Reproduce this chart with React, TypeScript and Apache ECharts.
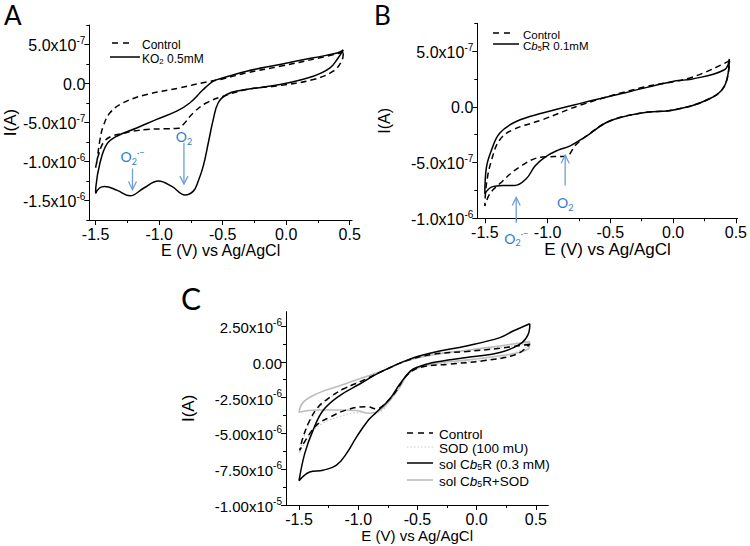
import React, { useEffect, useRef } from 'react';
import * as echarts from 'echarts';

// ---------- Panel A (current in units of 1e-7 A) ----------
const aControlE = [0.45, 0.267, -0.049, -0.311, -0.521, -0.626, -0.836, -1.098, -1.283, -1.387, -1.44, -1.466, -1.492, -1.5, -1.48, -1.44, -1.38, -1.283, -1.2, -1.098, -0.95, -0.85, -0.81, -0.731, -0.626, -0.495, -0.311, -0.049, 0.213, 0.37, 0.44, 0.45];
const aControlI = [4.0, 3.3, 2.2, 1.37, 0.51, 0.2, -0.55, -1.41, -2.47, -3.76, -5.47, -7.2, -10.2, -10.8, -9.3, -7.6, -6.8, -6.4, -6.1, -5.9, -5.8, -5.75, -5.26, -3.76, -2.47, -1.63, -0.77, -0.26, 0.51, 1.58, 3.0, 4.0];
const aKO2E = [0.45, 0.4, 0.213, -0.049, -0.311, -0.521, -0.574, -0.653, -0.757, -0.862, -1.02, -1.177, -1.335, -1.413, -1.466, -1.498, -1.5, -1.47, -1.43, -1.33, -1.23, -1.12, -1.007, -0.9, -0.797, -0.731, -0.692, -0.653, -0.613, -0.574, -0.535, -0.468, -0.364, -0.049, 0.213, 0.345, 0.41, 0.45];
const aKO2I = [4.3, 3.9, 3.3, 2.44, 1.58, 0.6, 0.3, -0.77, -2.47, -3.55, -4.6, -5.7, -6.76, -7.8, -10.2, -13.2, -14.1, -13.4, -13.2, -13.7, -14.4, -13.4, -12.5, -13.2, -14.3, -13.8, -12.5, -10.6, -7.6, -4.6, -2.47, -1.41, -0.9, -0.13, 0.94, 2.0, 3.3, 4.3];

// ---------- Panel B (current in units of 1e-7 A) ----------
const bControlE = [0.45, 0.145, -0.25, -0.724, -1.04, -1.277, -1.382, -1.447, -1.487, -1.5, -1.46, -1.382, -1.224, -1.04, -0.855, -0.776, -0.697, -0.513, -0.25, 0.014, 0.277, 0.409, 0.45];
const bControlI = [4.15, 2.64, 1.73, 0.21, -1.15, -2.06, -2.97, -4.8, -6.9, -8.9, -7.8, -6.9, -5.4, -4.5, -4.43, -3.43, -2.67, -1.31, -0.55, -0.25, 0.66, 1.87, 4.15];
const bCb5RE = [0.448, 0.409, 0.145, 0.014, -0.381, -0.724, -1.04, -1.25, -1.382, -1.447, -1.487, -1.5, -1.447, -1.356, -1.263, -1.17, -1.1, -1.02, -0.92, -0.82, -0.697, -0.513, -0.25, 0.014, 0.277, 0.409, 0.448];
const bCb5RI = [4.3, 3.33, 2.48, 2.33, 1.27, 0.36, -0.55, -1.31, -2.36, -3.88, -5.4, -7.8, -7.2, -7.06, -7.06, -6.45, -5.3, -4.5, -3.9, -3.5, -2.67, -1.31, -0.55, -0.25, 0.66, 1.87, 4.3];

// ---------- Panel C (current in units of 1e-6 A) ----------
const cControlE = [0.449, 0.196, -0.086, -0.368, -0.6, -0.818, -0.987, -1.128, -1.24, -1.34, -1.41, -1.466, -1.494, -1.41, -1.34, -1.24, -1.1, -0.93, -0.846, -0.762, -0.677, -0.593, -0.48, -0.227, 0.055, 0.337, 0.449];
const cControlI = [1.23, 0.95, 0.72, 0.53, 0.05, -0.74, -1.4, -1.9, -2.48, -3.17, -4.1, -5.26, -6.18, -5.02, -4.33, -3.87, -3.36, -3.13, -3.29, -2.83, -2.01, -0.97, -0.4, -0.16, 0.07, 0.53, 1.23];
const cSODE = [0.449, 0.2, -0.1, -0.4, -0.6, -0.82, -1.0, -1.15, -1.28, -1.38, -1.45, -1.5, -1.4, -1.3, -1.15, -1.0, -0.88, -0.8, -0.72, -0.64, -0.56, -0.4, -0.1, 0.2, 0.449];
const cSODI = [1.3, 1.0, 0.75, 0.5, 0.05, -0.74, -1.4, -2.05, -2.8, -3.8, -5.0, -6.4, -5.0, -4.3, -3.8, -3.55, -3.6, -3.4, -2.6, -1.6, -0.7, -0.25, 0.0, 0.3, 1.1];
const cCb5RE = [0.449, 0.308, 0.196, -0.086, -0.368, -0.565, -0.818, -0.987, -1.156, -1.297, -1.382, -1.452, -1.5, -1.41, -1.297, -1.184, -1.1, -1.015, -0.917, -0.846, -0.734, -0.649, -0.56, -0.508, -0.368, -0.086, 0.196, 0.365, 0.435, 0.449];
const cCb5RI = [2.66, 2.15, 1.69, 1.11, 0.65, 0.19, -0.74, -1.55, -2.36, -3.4, -4.79, -6.41, -8.3, -7.69, -7.57, -7.22, -6.41, -5.26, -4.1, -3.52, -2.59, -1.55, -0.65, -0.4, -0.05, 0.3, 0.65, 1.23, 1.92, 2.66];
const cCb5RSODE = [0.449, 0.196, -0.086, -0.368, -0.593, -0.79, -0.959, -1.156, -1.353, -1.466, -1.5, -1.353, -1.156, -1.015, -0.903, -0.818, -0.734, -0.649, -0.565, -0.368, -0.086, 0.196, 0.435, 0.449];
const cCb5RSODI = [1.41, 1.11, 0.81, 0.49, 0.07, -0.63, -1.09, -1.67, -2.24, -2.83, -3.52, -3.36, -3.36, -3.4, -3.59, -3.4, -2.71, -1.78, -0.74, -0.16, 0.12, 0.42, 0.88, 1.41];

// ---------- ticks ----------
const xMajor = [-1.5, -1.0, -0.5, 0.0, 0.5];
const xMinor = [-1.25, -0.75, -0.25, 0.25];
const yMajorA = [-15, -10, -5, 0, 5];
const yMinorA = [-17.5, -12.5, -7.5, -2.5, 2.5, 7.5];
const yMajorB = [-10, -5, 0, 5];
const yMinorB = [-7.5, -2.5, 2.5, 7.5];
const yMajorC = [-10, -7.5, -5, -2.5, 0, 2.5];
const yMinorC = [-8.75, -6.25, -3.75, -1.25, 1.25];

// annotation anchors (data space)
const annA = [
  { e: -0.805, label: 'O2', labelI: -6.8, from: -7.6, to: -12.9 },
  { e: -1.21, label: 'O2rad', labelI: -9.4, from: -10.9, to: -13.6 },
];
const annB = [
  { e: -0.86, label: 'O2', labelI: -8.6, from: -7.06, to: -4.34 },
  { e: -1.25, label: 'O2rad', labelI: -11.8, from: -10.4, to: -8.13 },
];

const AX = '"Liberation Sans", Arial, sans-serif';
const CAL = 'Lato, "Open Sans", sans-serif';
const BLUE = '#2f7ccc';
const ABLUE = '#6d9fd8';

function pairs(e: number[], i: number[]) {
  return e.map((v, k) => [v, i[k]]);
}

function sci(v: number, unitExp: number, dec: number) {
  if (Math.abs(v) < 1e-9) return '{m|' + (0).toFixed(dec) + '}';
  let m = v;
  let ex = unitExp;
  while (Math.abs(m) >= 10 - 1e-9) { m /= 10; ex += 1; }
  while (Math.abs(m) < 1 - 1e-9) { m *= 10; ex -= 1; }
  return '{m|' + m.toFixed(dec) + 'x10}{s|' + ex + '}';
}

const panels = [
  { grid: { left: 89.3, top: 25, width: 262.7, height: 195 }, xMin: -1.55, xMax: 0.518, yMin: -17.5, yMax: 7.5, yMajor: yMajorA, yMinor: yMinorA, unitExp: -7, dec: 1, yFont: 16, xName: 16, xGap: 22, yName: 17, yGap: 70 },
  { grid: { left: 477.3, top: 23.3, width: 262.7, height: 195 }, xMin: -1.56, xMax: 0.514, yMin: -10, yMax: 7.5, yMajor: yMajorB, yMinor: yMinorB, unitExp: -7, dec: 1, yFont: 16, xName: 17, xGap: 21, yName: 16, yGap: 85 },
  { grid: { left: 286, top: 311.7, width: 262.3, height: 193.3 }, xMin: -1.61, xMax: 0.605, yMin: -10, yMax: 3.5, yMajor: yMajorC, yMinor: yMinorC, unitExp: -6, dec: 2, yFont: 15, xName: 15, xGap: 23, yName: 17, yGap: 89 },
];

const lineBlack = { color: '#000', width: 1.5 };
const dashBlack = { color: '#000', width: 1.5, type: [6, 4] as any };

export default function App() {
  const ref = useRef<HTMLDivElement>(null);
  useEffect(() => {
    if (!ref.current) return;
    const chart = echarts.init(ref.current, null, { renderer: 'svg' });
    const xAxis: any[] = [];
    const yAxis: any[] = [];
    panels.forEach((p, i) => {
      xAxis.push({
        type: 'value', gridIndex: i, min: p.xMin, max: p.xMax, position: 'bottom',
        axisLine: { onZero: false, lineStyle: { color: '#000', width: 1 } },
        axisTick: { customValues: xMajor, length: 5, lineStyle: { color: '#000' } },
        axisLabel: { customValues: xMajor, formatter: (v: number) => v.toFixed(1), fontSize: 16, color: '#000', fontFamily: AX, margin: 6 },
        splitLine: { show: false },
        name: 'E (V) vs Ag/AgCl', nameLocation: 'middle', nameGap: p.xGap,
        nameTextStyle: { fontSize: p.xName, color: '#000', fontFamily: AX },
      });
      yAxis.push({
        type: 'value', gridIndex: i, min: p.yMin, max: p.yMax, position: 'left',
        axisLine: { onZero: false, lineStyle: { color: '#000', width: 1 } },
        axisTick: { customValues: p.yMajor, length: 5, lineStyle: { color: '#000' } },
        axisLabel: {
          customValues: p.yMajor, margin: 4,
          formatter: (v: number) => sci(v, p.unitExp, p.dec),
          rich: {
            m: { fontSize: p.yFont, color: '#000', fontFamily: AX, lineHeight: 18, verticalAlign: 'bottom' },
            s: { fontSize: 10, color: '#000', fontFamily: AX, lineHeight: 18, verticalAlign: 'top' },
          },
        },
        splitLine: { show: false },
        name: 'I(A)', nameLocation: 'middle', nameGap: p.yGap, nameRotate: 90,
        nameTextStyle: { fontSize: p.yName, color: '#000', fontFamily: AX },
      });
    });
    panels.forEach((p, i) => {
      xAxis.push({
        type: 'value', gridIndex: i, min: p.xMin, max: p.xMax, position: 'bottom',
        axisLine: { show: false, onZero: false },
        axisTick: { customValues: xMinor, length: 3, lineStyle: { color: '#000' } },
        axisLabel: { show: false }, splitLine: { show: false },
      });
      yAxis.push({
        type: 'value', gridIndex: i, min: p.yMin, max: p.yMax, position: 'left',
        axisLine: { show: false, onZero: false },
        axisTick: { customValues: p.yMinor, length: 3, lineStyle: { color: '#000' } },
        axisLabel: { show: false }, splitLine: { show: false },
      });
    });

    const mk = (name: string, idx: number, e: number[], iv: number[], ls: any) => ({
      name, type: 'line', xAxisIndex: idx, yAxisIndex: idx, data: pairs(e, iv),
      showSymbol: false, symbol: 'none', smooth: 0.4, lineStyle: ls, z: 3,
    });

    const series = [
      mk('Control A', 0, aControlE, aControlI, dashBlack),
      mk('KO2 0.5mM', 0, aKO2E, aKO2I, lineBlack),
      mk('Control B', 1, bControlE, bControlI, dashBlack),
      mk('Cb5R 0.1mM', 1, bCb5RE, bCb5RI, lineBlack),
      mk('sol Cb5R+SOD', 2, cCb5RSODE, cCb5RSODI, { color: '#bdbdbd', width: 1.6 }),
      mk('SOD (100 mU)', 2, cSODE, cSODI, { color: '#c9c9c9', width: 1.2, type: [1.5, 2] }),
      mk('Control C', 2, cControlE, cControlI, dashBlack),
      mk('sol Cb5R (0.3 mM)', 2, cCb5RE, cCb5RI, lineBlack),
    ];

    chart.setOption({
      animation: false,
      grid: panels.map((p) => ({ ...p.grid, containLabel: false })),
      xAxis, yAxis, series,
    });

    const g: any[] = [];
    // panel letters
    g.push({ type: 'text', x: 4, y: 15, style: { text: 'A', fontSize: 26, fontFamily: CAL, fill: '#000', verticalAlign: 'middle' } });
    g.push({ type: 'text', x: 374, y: 15, style: { text: 'B', fontSize: 26, fontFamily: CAL, fill: '#000', verticalAlign: 'middle' } });
    g.push({ type: 'text', x: 181, y: 298, style: { text: 'C', fontSize: 30, fontFamily: CAL, fill: '#000', verticalAlign: 'middle' } });

    const legRich = (fs: number) => ({
      t: { fontSize: fs, fontFamily: AX, fill: '#000', lineHeight: fs + 4, verticalAlign: 'bottom' },
      i: { fontSize: fs, fontFamily: AX, fontStyle: 'italic', fill: '#000', lineHeight: fs + 4, verticalAlign: 'bottom' },
      sub: { fontSize: fs * 0.65, fontFamily: AX, fill: '#000', lineHeight: fs + 2, verticalAlign: 'bottom' },
    });
    const legItem = (x1: number, x2: number, y: number, tx: number, text: string, fs: number, ls: any) => {
      g.push({ type: 'line', shape: { x1, y1: y, x2, y2: y }, style: ls, z: 10 });
      g.push({ type: 'text', x: tx, y, style: { text, rich: legRich(fs), verticalAlign: 'middle', align: 'left' }, z: 10 });
    };
    const dashS = { stroke: '#000', lineWidth: 1.5, lineDash: [6, 5] };
    const solidS = { stroke: '#000', lineWidth: 1.5 };
    legItem(112, 134, 43, 142, '{t|Control}', 12, dashS);
    legItem(110, 140, 57, 142, '{t|KO}{sub|2}{t| 0.5mM}', 12, solidS);
    legItem(493, 513, 33, 523, '{t|Control}', 11.5, dashS);
    legItem(493, 519, 44, 523, '{t|C}{i|b}{sub|5}{t|R 0.1mM}', 11.5, solidS);
    legItem(407, 433, 433, 439, '{t|Control}', 13.5, dashS);
    legItem(407, 433, 447, 439, '{t|SOD (100 mU)}', 13.5, { stroke: '#c9c9c9', lineWidth: 1.2, lineDash: [1.5, 2] });
    legItem(407, 433, 463, 439, '{t|sol C}{i|b}{sub|5}{t|R (0.3 mM)}', 13.5, solidS);
    legItem(407, 433, 480, 439, '{t|sol C}{i|b}{sub|5}{t|R+SOD}', 13.5, { stroke: '#bdbdbd', lineWidth: 1.6 });

    // blue annotations
    const blueRich = {
      o: { fontSize: 14, fontFamily: CAL, fill: BLUE, lineHeight: 18, verticalAlign: 'middle' },
      sub: { fontSize: 9, fontFamily: CAL, fill: BLUE, lineHeight: 18, verticalAlign: 'bottom' },
      sup: { fontSize: 9, fontFamily: CAL, fill: BLUE, lineHeight: 18, verticalAlign: 'top' },
    };
    const addAnn = (idx: number, a: any) => {
      const to = (i: number) => chart.convertToPixel({ xAxisIndex: idx, yAxisIndex: idx }, [a.e, i]) as number[];
      const pl = to(a.labelI);
      const pf = to(a.from);
      const pt = to(a.to);
      const text = a.label === 'O2' ? '{o|O}{sub|2}' : '{o|O}{sub|2}{sup|·−}';
      g.push({ type: 'text', x: pl[0], y: pl[1], style: { text, rich: blueRich, align: 'center', verticalAlign: 'middle' }, z: 10 });
      g.push({ type: 'line', shape: { x1: pf[0], y1: pf[1], x2: pt[0], y2: pt[1] }, style: { stroke: ABLUE, lineWidth: 1.3 }, z: 10 });
      const dir = pt[1] > pf[1] ? 1 : -1;
      g.push({ type: 'polyline', shape: { points: [[pt[0] - 4, pt[1] - dir * 8], [pt[0], pt[1]], [pt[0] + 4, pt[1] - dir * 8]] }, style: { stroke: ABLUE, lineWidth: 1.3, fill: 'none' }, z: 10 });
    };
    annA.forEach((a) => addAnn(0, a));
    annB.forEach((a) => addAnn(1, a));

    chart.setOption({ graphic: g });
    return () => chart.dispose();
  }, []);
  return <div ref={ref} style={{ position: 'absolute', left: 0, top: 0, width: 750, height: 546, background: '#fff' }} />;
}
